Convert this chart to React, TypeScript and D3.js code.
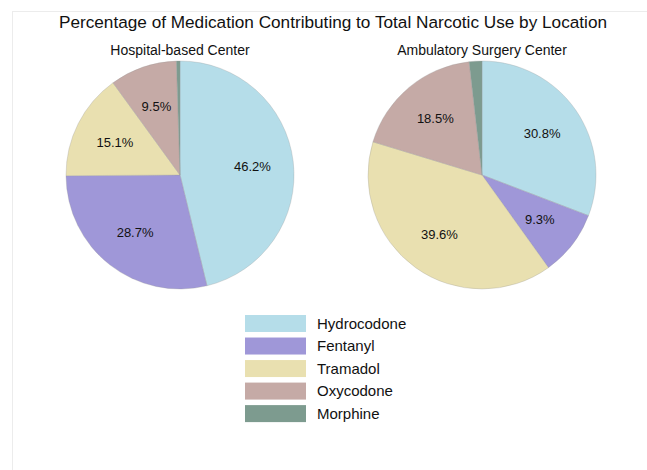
import { useEffect, useRef } from "react";
import * as d3 from "d3";

const MEDS = ["Hydrocodone", "Fentanyl", "Tramadol", "Oxycodone", "Morphine"];
const COLORS = ["#b5dde9", "#9f97d8", "#e9e0b0", "#c5aaa6", "#7d9b8f"];
const HOSPITAL = [46.2, 28.7, 15.1, 9.5, 0.5];
const AMBULATORY = [30.8, 9.3, 39.6, 18.5, 1.8];
const PIE_TITLES = ["Hospital-based Center", "Ambulatory Surgery Center"];
const TITLE = "Percentage of Medication Contributing to Total Narcotic Use by Location";

const FONT = "'Liberation Sans', Arial, sans-serif";

export default function App() {
  const ref = useRef<SVGSVGElement>(null);

  useEffect(() => {
    if (!ref.current) return;
    const width = 647;
    const height = 470;
    const svg = d3.select(ref.current);
    svg.selectAll("*").remove();
    svg.attr("width", width).attr("height", height);

    // faint frame around the figure
    svg
      .append("rect")
      .attr("x", 12.5)
      .attr("y", 11.5)
      .attr("width", width)
      .attr("height", height)
      .attr("fill", "white")
      .attr("stroke", "#ececec");

    svg
      .append("text")
      .attr("x", 333)
      .attr("y", 28)
      .attr("text-anchor", "middle")
      .attr("font-family", FONT)
      .attr("font-size", 17.2)
      .attr("fill", "#111")
      .text(TITLE);

    const radius = 114;
    const centers = [180, 482];
    const cy = 175;
    const pie = d3
      .pie<number>()
      .sort(null)
      .value((d) => d);
    const arc = d3.arc<d3.PieArcDatum<number>>().innerRadius(0).outerRadius(radius);
    const labelArc = d3
      .arc<d3.PieArcDatum<number>>()
      .innerRadius(radius * 0.64)
      .outerRadius(radius * 0.64);

    [HOSPITAL, AMBULATORY].forEach((values, i) => {
      const g = svg.append("g").attr("transform", `translate(${centers[i]},${cy})`);
      svg
        .append("text")
        .attr("x", centers[i])
        .attr("y", 55)
        .attr("text-anchor", "middle")
        .attr("font-family", FONT)
        .attr("font-size", 14)
        .attr("fill", "#111")
        .text(PIE_TITLES[i]);

      const arcs = pie(values);
      g.selectAll("path")
        .data(arcs)
        .join("path")
        .attr("d", arc)
        .attr("fill", (_, j) => COLORS[j])
        .attr("stroke", "#9a9a9a")
        .attr("stroke-width", 0.3);

      // small slices (morphine) carry no label
      g.selectAll("text")
        .data(arcs.filter((d) => d.data >= 5))
        .join("text")
        .attr("transform", (d) => `translate(${labelArc.centroid(d)})`)
        .attr("text-anchor", "middle")
        .attr("dy", "0.35em")
        .attr("font-family", FONT)
        .attr("font-size", 13)
        .attr("fill", "#111")
        .text((d) => `${d.data.toFixed(1)}%`);
    });

    const legend = svg.append("g").attr("transform", "translate(245,315)");
    const rowY = d3.scaleBand<string>().domain(MEDS).range([0, 107]).paddingInner(0.25);
    legend
      .selectAll("rect")
      .data(MEDS)
      .join("rect")
      .attr("x", 0)
      .attr("y", (d) => rowY(d) ?? 0)
      .attr("width", 61)
      .attr("height", 17)
      .attr("fill", (_, j) => COLORS[j]);
    legend
      .selectAll("text")
      .data(MEDS)
      .join("text")
      .attr("x", 72)
      .attr("y", (d) => (rowY(d) ?? 0) + 8.5)
      .attr("dy", "0.35em")
      .attr("font-family", FONT)
      .attr("font-size", 15)
      .attr("fill", "#111")
      .text((d) => d);
  }, []);

  return (
    <div style={{ position: "fixed", left: 0, top: 0, background: "white" }}>
      <svg ref={ref} style={{ display: "block" }} />
    </div>
  );
}
